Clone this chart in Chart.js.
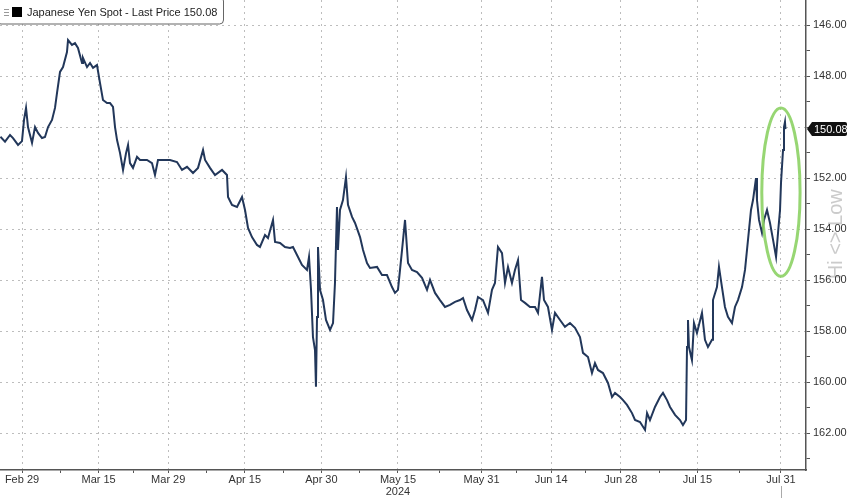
<!DOCTYPE html>
<html>
<head>
<meta charset="utf-8">
<script src="https://cdn.jsdelivr.net/npm/chart.js@4"></script>
<style>
  html, body { margin: 0; padding: 0; background: #fff; }
  #wrap { width: 848px; height: 498px; }
</style>
</head>
<body>
<div id="wrap"><canvas id="myChart" width="848" height="498"></canvas></div>
<script>
// trading days counted from Mon Feb 26 2024 (fractions = intraday)
const tradingDay = [
  -0.1, 0.56, 1.28, 1.71, 2.43, 3.0, 3.29, 3.58, 3.86, 4.44, 4.87, 5.30, 5.87, 6.30, 6.74, 7.31, 7.74, 8.03,
  8.46, 8.89, 9.46, 9.61, 10.18, 10.61, 11.04, 11.62, 11.76, 12.34, 12.77, 13.20, 13.77, 14.20, 14.63, 15.21,
  15.64, 16.07, 16.36, 16.65, 17.08, 17.51, 17.94, 18.23, 18.51, 18.94, 19.52, 19.95, 20.95, 21.67, 22.10,
  22.53, 23.25, 24.26, 25.26, 25.98, 26.70, 27.56, 28.28, 29.00, 29.29, 30.00, 30.72, 31.73, 32.44, 32.59,
  33.16, 33.88, 34.60, 35.03, 35.46, 36.03, 36.75, 37.18, 37.90, 38.33, 39.05, 39.34, 40.06, 40.77, 41.49,
  41.92, 42.64, 43.21, 43.93, 44.22, 44.51, 44.79, 45.08, 45.22, 45.37, 45.51, 45.80, 46.23, 46.66, 47.24,
  47.67, 47.95, 48.24, 48.38, 48.67, 49.10, 49.53, 49.82, 50.40, 50.83, 51.55, 51.98, 52.55, 52.98, 53.99,
  54.70, 55.42, 56.14, 56.57, 57.00, 57.58, 58.01, 58.44, 59.01, 59.73, 60.45, 61.17, 61.60, 62.32, 63.03,
  63.75, 64.47, 65.19, 65.91, 66.34, 66.91, 67.63, 68.06, 68.49, 69.21, 69.93, 70.50, 70.93, 71.36, 71.94,
  72.37, 72.80, 73.37, 73.80, 74.24, 74.67, 75.24, 75.96, 76.68, 77.11, 77.68, 77.97, 78.54, 79.12, 79.55,
  80.27, 80.98, 81.70, 82.42, 83.14, 83.57, 84.29, 84.86, 85.29, 85.72, 86.44, 87.16, 87.74, 88.17, 88.89,
  89.32, 89.89, 90.61, 91.04, 91.76, 92.48, 92.77, 93.19, 93.91, 94.63, 95.06, 95.64, 96.07, 96.79, 97.50,
  97.93, 98.37, 98.51, 98.65, 98.79, 99.22, 99.51, 99.94, 100.66, 101.09, 101.52, 102.10, 102.24, 102.81,
  103.10, 103.53, 103.96, 104.39, 104.97, 105.40, 105.83, 106.41, 106.84, 107.27, 107.70, 107.99, 108.42,
  108.56, 108.85, 109.28, 109.57, 110.00, 110.43, 110.87, 111.30, 111.58, 111.87, 112.01, 112.30, 112.44,
  112.58, 112.65
];
const yenSpot = [
  150.38, 150.57, 150.31, 150.43, 150.70, 150.55, 149.72, 149.25, 150.00, 150.62, 150.00, 150.23, 150.43, 150.39, 150.00, 149.72, 149.25, 148.66,
  147.84, 147.65, 147.06, 146.59, 146.78, 146.71, 146.90, 147.49, 147.29, 147.65, 147.49, 147.68, 147.57, 148.27, 148.94, 149.06,
  149.06, 149.21, 150.00, 150.51, 151.02, 151.68, 151.02, 150.70, 151.41, 151.60, 151.17, 151.29, 151.29, 151.41, 151.88,
  151.29, 151.29, 151.29, 151.37, 151.68, 151.56, 151.80, 151.60, 150.90, 151.29, 151.60, 151.88, 151.68, 151.88, 152.74,
  153.05, 153.13, 152.74, 153.25, 153.95, 154.31, 154.62, 154.70, 154.23, 154.35, 153.64, 154.50, 154.54, 154.70, 154.74,
  154.70, 155.09, 155.40, 155.60, 155.09, 156.38, 158.23, 158.74, 160.18, 157.44, 154.70, 156.38, 156.78, 157.56, 157.95,
  157.68, 156.11, 153.13, 154.82, 153.25, 152.86, 151.96, 153.05, 153.52, 153.76, 154.31, 154.82, 155.33, 155.52, 155.48,
  155.80, 155.80, 156.27, 156.50, 156.38, 154.82, 153.64, 155.33, 155.60, 155.68, 155.91, 156.38, 155.99, 156.50, 156.78,
  157.05, 156.97, 156.85, 156.78, 156.70, 157.17, 157.56, 157.17, 156.66, 156.78, 157.28, 156.38, 156.11, 154.70, 154.94,
  156.11, 155.48, 156.11, 155.60, 155.21, 156.78, 156.89, 157.05, 157.05, 157.28, 155.87, 156.78, 157.05, 157.95, 157.28,
  157.56, 157.83, 157.68, 157.87, 158.23, 158.85, 159.01, 159.64, 159.25, 159.52, 159.64, 160.03, 160.58, 160.42, 160.58,
  160.70, 160.89, 161.21, 161.48, 161.56, 161.87, 161.21, 161.48, 160.97, 160.58, 160.42, 160.70, 160.97, 161.28, 161.48,
  161.68, 161.48, 158.62, 157.56, 158.62, 159.13, 157.68, 158.07, 157.28, 158.34, 158.62, 158.34, 156.78, 156.27,
  155.48, 156.27, 157.05, 157.44, 157.68, 157.05, 156.78, 156.27, 155.60, 154.42, 153.25, 152.86, 152.00,
  152.86, 153.64, 154.15, 153.64, 153.25, 153.76, 154.42, 155.09, 154.15, 153.25, 152.19, 150.90, 150.00,
  149.80, 150.08
];
const tickDays = [3, 14, 24, 35, 46, 57, 69, 79, 89, 100, 112];
const tickLabels = ["Feb 29", "Mar 15", "Mar 29", "Apr 15", "Apr 30", ["May 15", "2024"], "May 31", "Jun 14", "Jun 28", "Jul 15", "Jul 31"];
const priceTicks = [146, 147, 148, 149, 150, 151, 152, 153, 154, 155, 156, 157, 158, 159, 160, 161, 162, 163];

const lastPrice = yenSpot[yenSpot.length - 1];
const seriesName = "Japanese Yen Spot - Last Price " + lastPrice.toFixed(2);
// green ring around the last move (day / price units)
const ring = { day: 112, price: 152.55, halfDays: 2.75, halfPrice: 3.3 };

const font = "'Liberation Sans', Arial, sans-serif";

const minorDays = [];
for (let k = 0; k < tickDays.length - 1; k++) {
  minorDays.push((tickDays[k] + tickDays[k + 1]) / 2);
}

const extras = {
  id: "extras",
  beforeDraw(chart) {
    const ctx = chart.ctx;
    const yScale = chart.scales.y;
    ctx.save();
    ctx.fillStyle = "#fff";
    ctx.fillRect(0, 0, chart.width, chart.height);
    // faded hi/low watermark on the right axis
    ctx.translate(836, yScale.getPixelForValue(154.2));
    ctx.rotate(-Math.PI / 2);
    ctx.fillStyle = "#cbcbcb";
    ctx.font = "20px " + font;
    ctx.textAlign = "center";
    ctx.textBaseline = "middle";
    ctx.fillText("Hi <> Low", 0, 0);
    ctx.restore();
  },
  afterDraw(chart) {
    const ctx = chart.ctx;
    const x = chart.scales.x;
    const y = chart.scales.y;

    // green ring
    const cx = x.getPixelForValue(ring.day);
    const cy = y.getPixelForValue(ring.price);
    const rx = x.getPixelForValue(ring.day + ring.halfDays) - cx;
    const ry = y.getPixelForValue(ring.price + ring.halfPrice) - cy;
    ctx.save();
    ctx.strokeStyle = "rgba(140, 210, 100, 0.9)";
    ctx.lineWidth = 3;
    ctx.beginPath();
    ctx.ellipse(cx, cy, Math.abs(rx), Math.abs(ry), 0, 0, Math.PI * 2);
    ctx.stroke();
    ctx.restore();

    // last price tag
    const ty = y.getPixelForValue(lastPrice);
    const tx = y.left + 1;
    ctx.save();
    ctx.fillStyle = "#111";
    ctx.beginPath();
    ctx.moveTo(tx, ty);
    ctx.lineTo(tx + 5, ty - 7);
    ctx.lineTo(chart.width - 3, ty - 7);
    ctx.quadraticCurveTo(chart.width - 1, ty - 7, chart.width - 1, ty - 5);
    ctx.lineTo(chart.width - 1, ty + 5);
    ctx.quadraticCurveTo(chart.width - 1, ty + 7, chart.width - 3, ty + 7);
    ctx.lineTo(tx + 5, ty + 7);
    ctx.closePath();
    ctx.fill();
    ctx.fillStyle = "#fff";
    ctx.font = "11px " + font;
    ctx.textBaseline = "middle";
    ctx.fillText(lastPrice.toFixed(2), tx + 7, ty + 0.5);
    ctx.restore();

    // legend box
    ctx.save();
    ctx.fillStyle = "#fff";
    ctx.strokeStyle = "#666";
    ctx.lineWidth = 1;
    ctx.beginPath();
    ctx.roundRect(-3, -3, 226.5, 27, 4);
    ctx.fill();
    ctx.stroke();
    ctx.fillStyle = "#999";
    for (let k = 0; k < 3; k++) ctx.fillRect(4, 9 + k * 3, 5, 1);
    ctx.fillStyle = "#000";
    ctx.fillRect(12, 7, 10, 10);
    ctx.fillStyle = "#222";
    ctx.font = "11px " + font;
    ctx.textBaseline = "middle";
    ctx.fillText(seriesName, 27, 13);
    ctx.restore();

    // cursor stub under the last date
    const lx = Math.round(x.getPixelForValue(tickDays[tickDays.length - 1])) + 0.5;
    ctx.save();
    ctx.strokeStyle = "#aaa";
    ctx.beginPath();
    ctx.moveTo(lx, 486);
    ctx.lineTo(lx, chart.height);
    ctx.stroke();
    ctx.restore();
  }
};

const data = {
  datasets: [
    {
      label: seriesName,
      data: tradingDay.map((d, k) => ({ x: d, y: yenSpot[k] })),
      borderColor: "#22375a",
      borderWidth: 2,
      pointRadius: 0,
      tension: 0,
    },
  ],
};

const config = {
  type: "line",
  data: data,
  options: {
    responsive: false,
    animation: false,
    events: [],
    layout: { padding: 0 },
    plugins: {
      legend: { display: false },
      tooltip: { enabled: false },
    },
    scales: {
      x: {
        type: "linear",
        min: -0.16,
        max: 115.6,
        afterBuildTicks: (scale) => {
          scale.ticks = tickDays.concat(minorDays).sort((a, b) => a - b).map((v) => ({ value: v }));
        },
        afterFit: (scale) => {
          scale.height = 28;
          scale.paddingLeft = 0;
          scale.paddingRight = 0;
        },
        ticks: {
          autoSkip: false,
          maxRotation: 0,
          padding: 1,
          color: "#333",
          font: { family: font, size: 11, lineHeight: 1.1 },
          callback: (value) => {
            const k = tickDays.indexOf(value);
            return k >= 0 ? tickLabels[k] : "";
          },
        },
        grid: {
          color: (ctx) => (ctx.tick && tickDays.includes(ctx.tick.value) ? "#bdbdbd" : "rgba(0,0,0,0)"),
          tickColor: "#555",
          tickLength: 3,
          lineWidth: 1,
        },
        border: { color: "#555", width: 1.5, dash: [2, 4] },
      },
      y: {
        position: "right",
        reverse: true,
        min: 145.02,
        max: 163.44,
        afterBuildTicks: (scale) => {
          scale.ticks = priceTicks.map((v) => ({ value: v }));
        },
        afterFit: (scale) => {
          scale.width = 42;
          scale.paddingTop = 0;
          scale.paddingBottom = 0;
        },
        ticks: {
          autoSkip: false,
          padding: 3,
          color: "#333",
          font: { family: font, size: 11 },
          callback: (value) => (value % 2 === 0 ? value.toFixed(2) : ""),
        },
        grid: {
          color: (ctx) => (ctx.tick && ctx.tick.value % 2 === 0 ? "#bdbdbd" : "rgba(0,0,0,0)"),
          tickColor: "#555",
          tickLength: 4,
          lineWidth: 1,
        },
        border: { color: "#555", width: 1.5, dash: [2, 4] },
      },
    },
  },
  plugins: [extras],
};

new Chart(document.getElementById("myChart"), config);
</script>
</body>
</html>
